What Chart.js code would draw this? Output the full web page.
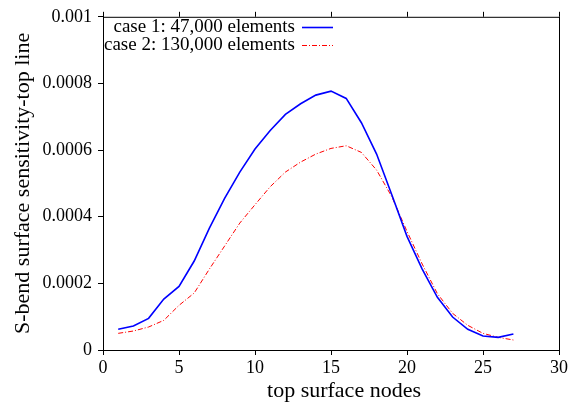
<!DOCTYPE html>
<html>
<head>
<meta charset="utf-8">
<script src="https://cdn.jsdelivr.net/npm/chart.js@4/dist/chart.umd.min.js"></script>
<style>
html,body{margin:0;padding:0;background:#fff;}
#wrap{width:571px;height:402px;}
</style>
</head>
<body>
<div id="wrap"><canvas id="c" width="571" height="402"></canvas></div>
<script>
const nodes = [1,2,3,4,5,6,7,8,9,10,11,12,13,14,15,16,17,18,19,20,21,22,23,24,25,26,27];
const case1 = [0.000062,0.000072,0.000095,0.000153,0.000191,0.000267,0.000366,0.000455,0.000534,0.000603,0.000659,0.000707,0.000739,0.000765,0.000777,0.000755,0.000682,0.000588,0.000466,0.000341,0.000243,0.000158,0.000099,0.000062,0.000042,0.000038,0.000048];
const case2 = [0.000050,0.000057,0.000069,0.000089,0.000134,0.000171,0.000243,0.000312,0.000381,0.000436,0.000490,0.000534,0.000564,0.000588,0.000605,0.000613,0.000593,0.000540,0.000460,0.000356,0.000258,0.000169,0.000110,0.000074,0.000050,0.000038,0.000030];
const seriesNames = ['case 1: 47,000 elements','case 2: 130,000 elements'];
const xTickLabels = ['0','5','10','15','20','25','30'];
const yTickLabels = ['0','0.0002','0.0004','0.0006','0.0008','0.001'];
const xTitle = 'top surface nodes';
const yTitle = 'S-bend surface sensitivity-top line';

const FONT = '"Liberation Serif", "DejaVu Serif", serif';

const framePlugin = {
  id: 'frame',
  afterDraw(chart) {
    const {ctx, chartArea: a, scales} = chart;
    ctx.save();
    ctx.strokeStyle = '#000';
    ctx.lineWidth = 1;
    ctx.strokeRect(a.left + 0.5, a.top + 0.5, a.right - a.left, a.bottom - a.top);
    // top mirrored ticks
    scales.x.ticks.forEach(t => {
      const px = Math.round(scales.x.getPixelForValue(t.value)) + 0.5;
      ctx.beginPath();
      ctx.moveTo(px, a.top);
      ctx.lineTo(px, a.top - 5);
      ctx.stroke();
    });
    // x axis title (gnuplot places it slightly right of centre)
    ctx.font = '22px ' + FONT;
    ctx.textAlign = 'center';
    ctx.textBaseline = 'middle';
    ctx.fillStyle = '#000';
    ctx.fillText(xTitle, (a.left + a.right) / 2 + 13, 391);
    // legend
    ctx.font = '19px ' + FONT;
    ctx.textAlign = 'right';
    ctx.textBaseline = 'middle';
    const rows = [27, 45];
    chart.data.datasets.forEach((ds, i) => {
      const y = rows[i];
      ctx.fillStyle = '#000';
      ctx.fillText(ds.label, 295, y);
      ctx.beginPath();
      ctx.strokeStyle = ds.borderColor;
      ctx.lineWidth = ds.borderWidth;
      ctx.setLineDash(ds.borderDash || []);
      ctx.moveTo(302, y + 0.5);
      ctx.lineTo(333, y + 0.5);
      ctx.stroke();
      ctx.setLineDash([]);
    });
    ctx.restore();
  }
};

new Chart(document.getElementById('c'), {
  type: 'line',
  data: {
    datasets: [
      {
        label: seriesNames[0],
        data: nodes.map((n, i) => ({x: n, y: case1[i]})),
        borderColor: '#0000ff',
        borderWidth: 1.6,
        pointRadius: 0,
        tension: 0,
        fill: false
      },
      {
        label: seriesNames[1],
        data: nodes.map((n, i) => ({x: n, y: case2[i]})),
        borderColor: '#ff0000',
        borderWidth: 1,
        borderDash: [5, 2, 1, 2],
        pointRadius: 0,
        tension: 0,
        fill: false
      }
    ]
  },
  options: {
    responsive: false,
    animation: false,
    devicePixelRatio: 1,
    layout: {padding: {left: 0, right: 12, top: 13, bottom: 0}},
    plugins: {legend: {display: false}, tooltip: {enabled: false}},
    scales: {
      x: {
        type: 'linear',
        min: 0, max: 30,
        afterFit(s) { s.height = 52; },
        afterBuildTicks(s) { s.ticks = xTickLabels.map(v => ({value: Number(v)})); },
        ticks: {
          color: '#000',
          font: {family: FONT, size: 18},
          padding: 2,
          maxRotation: 0,
          autoSkip: false,
          callback: (v, i) => xTickLabels[i]
        },
        grid: {drawOnChartArea: false, drawTicks: true, tickLength: 5, color: '#000'},
        border: {color: '#000'},
        title: {display: false}
      },
      y: {
        type: 'linear',
        min: 0, max: 0.001,
        afterFit(s) { s.width = 103; },
        afterBuildTicks(s) { s.ticks = yTickLabels.map(v => ({value: Number(v)})); },
        ticks: {
          color: '#000',
          font: {family: FONT, size: 18},
          padding: 6,
          autoSkip: false,
          callback: (v, i) => yTickLabels[i]
        },
        grid: {drawOnChartArea: false, drawTicks: true, tickLength: 5, color: '#000'},
        border: {color: '#000'},
        title: {
          display: true,
          text: yTitle,
          color: '#000',
          font: {family: FONT, size: 22, lineHeight: 1},
          padding: {top: 12, bottom: 0}
        }
      }
    }
  },
  plugins: [framePlugin]
});
</script>
</body>
</html>
